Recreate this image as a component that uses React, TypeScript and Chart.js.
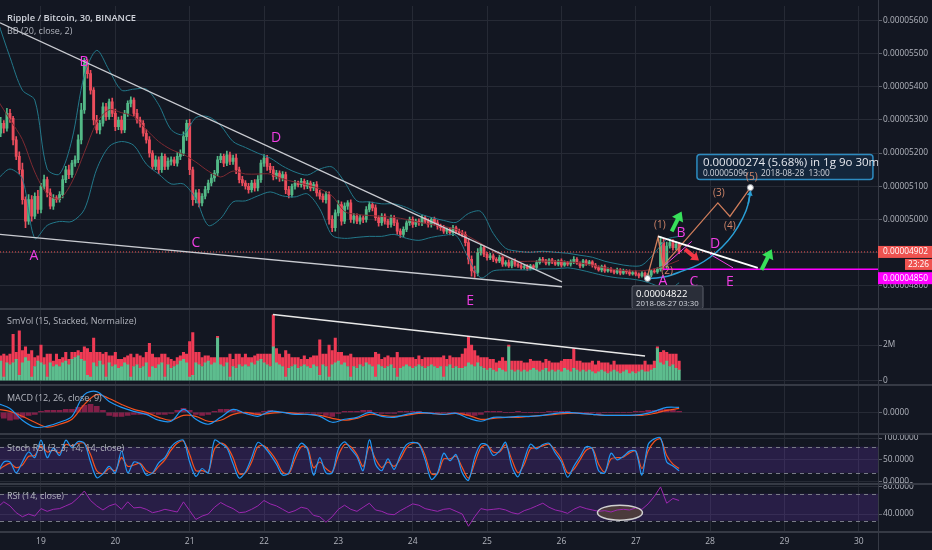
import React, { useEffect, useRef } from 'react';
import { Chart, registerables } from 'chart.js';

Chart.register(...registerables);

// ---------------- data (hourly candles, index 0 = 2018-08-18 10:00) ----------------
const firstOpen = 5250;
const closes = [
  5260, 5290, 5275, 5320, 5305, 5240, 5190, 5150, 5060, 4995,
  5060, 5010, 5070, 5030, 5100, 5120, 5080, 5040, 5065, 5060,
  5075, 5120, 5150, 5135, 5170, 5180, 5240, 5330, 5470, 5440,
  5390, 5300, 5270, 5290, 5340, 5310, 5355, 5320, 5280, 5300,
  5270, 5320, 5350, 5360, 5320, 5300, 5290, 5260, 5240, 5200,
  5160, 5180, 5150, 5190, 5160, 5175, 5180, 5170, 5190, 5200,
  5250, 5290, 5150, 5060, 5080, 5050, 5070, 5090, 5110, 5125,
  5140, 5180, 5190, 5170, 5195, 5175, 5185, 5150, 5120, 5110,
  5100, 5090, 5110, 5095, 5120, 5170, 5185, 5160, 5150, 5130,
  5140, 5125, 5135, 5090, 5075, 5100, 5110, 5105, 5115, 5100,
  5110, 5095, 5105, 5080, 5070, 5060, 5075, 5000, 4975, 5020,
  5045, 4995, 5040, 5050, 5000, 5010, 4995, 5005, 5000, 5030,
  5045, 5035, 5005, 4990, 5010, 4995, 4985, 5005, 4990, 4965,
  4955, 4970, 4990, 5000, 4985, 4995, 4990, 5005, 4995, 4985,
  5000, 4990, 4980, 4975, 4965, 4970, 4960, 4975, 4965, 4960,
  4955, 4930, 4880, 4845, 4840, 4900, 4915, 4895, 4885, 4890,
  4880, 4875, 4885, 4865, 4870, 4860, 4875, 4865, 4860, 4855,
  4858, 4852, 4860, 4855, 4870, 4880, 4875, 4868, 4878, 4872,
  4865, 4875, 4862, 4870, 4865, 4872, 4880, 4868, 4860, 4875,
  4866, 4872, 4862, 4855, 4848, 4858, 4845, 4850, 4845, 4840,
  4848, 4838, 4845, 4842, 4836, 4840, 4835, 4830, 4838, 4828,
  4832, 4845, 4842, 4850, 4930, 4860, 4920, 4930, 4915, 4925, 4902,
];
const wickUp = [
  10, 18, 8, 15, 12, 6, 10, 14, 20, 8,
  15, 12, 10, 18, 9, 14, 8, 12, 10, 7,
  9, 12, 10, 14, 8, 12, 15, 20, 16, 12,
  10, 8, 14, 9, 12, 10, 8, 11, 13, 9,
  12, 9, 8, 10, 7, 12, 9, 8, 11, 10,
  8, 12, 9, 10, 7, 11, 9, 8, 12, 10,
  14, 10, 12, 8, 9, 11, 8, 10, 9, 12,
  8, 10, 9, 7, 11, 8, 9, 12, 8, 10,
  7, 9, 8, 10, 12, 9, 11, 8, 9, 10,
  8, 7, 9, 8, 10, 7, 8, 6, 9, 7,
  8, 6, 7, 9, 8, 7, 10, 8, 12, 9,
  12, 8, 10, 7, 9, 8, 7, 8, 6, 9,
  8, 7, 9, 6, 8, 7, 6, 8, 7, 9,
  7, 8, 6, 7, 8, 6, 7, 8, 6, 7,
  6, 7, 8, 6, 7, 5, 6, 7, 5, 6,
  7, 8, 12, 10, 14, 12, 9, 7, 6, 8,
  6, 5, 7, 5, 6, 8, 5, 6, 5, 6,
  5, 6, 5, 4, 6, 5, 6, 5, 4, 5,
  5, 4, 6, 5, 4, 6, 8, 5, 4, 5,
  4, 5, 4, 6, 5, 4, 5, 4, 5, 4,
  5, 4, 5, 4, 6, 4, 5, 4, 5, 4,
  5, 4, 6, 5, 18, 10, 12, 10, 9, 8, 6,
];
const wickDn = [
  8, 10, 14, 9, 12, 15, 10, 12, 14, 20,
  10, 15, 8, 12, 10, 9, 12, 8, 10, 9,
  8, 10, 9, 12, 8, 10, 9, 12, 10, 14,
  12, 15, 10, 12, 9, 11, 8, 10, 12, 9,
  10, 8, 9, 11, 8, 10, 12, 9, 10, 12,
  9, 10, 12, 8, 10, 9, 11, 8, 9, 10,
  8, 12, 15, 18, 10, 12, 9, 8, 10, 9,
  10, 8, 9, 11, 8, 10, 9, 12, 10, 8,
  9, 11, 8, 10, 9, 8, 10, 12, 9, 11,
  8, 10, 9, 12, 10, 8, 9, 7, 8, 9,
  7, 9, 8, 10, 9, 8, 11, 14, 12, 10,
  9, 12, 8, 10, 9, 11, 8, 9, 10, 8,
  7, 9, 8, 10, 8, 9, 10, 8, 9, 10,
  9, 8, 7, 8, 9, 7, 8, 9, 7, 8,
  8, 7, 9, 8, 7, 8, 7, 9, 8, 7,
  8, 10, 14, 16, 15, 10, 8, 7, 8, 6,
  7, 6, 5, 7, 6, 5, 6, 7, 5, 6,
  5, 6, 4, 5, 6, 5, 4, 5, 6, 5,
  4, 5, 6, 4, 5, 6, 5, 4, 6, 5,
  5, 4, 6, 5, 4, 6, 5, 4, 5, 4,
  4, 5, 4, 6, 5, 4, 5, 6, 4, 6,
  4, 5, 4, 5, 6, 12, 8, 7, 8, 6, 5,
];
// volume in millions: up (green, bottom) and down (red, top) parts
const volUp = [
  0.9, 1.1, 0.2, 1.0, 0.9, 1.0, 1.2, 0.3, 1.0, 1.3,
  1.1, 0.2, 0.8, 1.1, 1.0, 0.9, 0.2, 1.0, 0.8, 0.9,
  0.8, 1.0, 1.1, 0.9, 1.2, 1.3, 1.4, 1.2, 1.1, 0.3,
  0.2, 1.0, 0.8, 1.1, 0.9, 0.2, 1.0, 0.8, 0.9, 0.7,
  0.8, 1.0, 0.9, 0.2, 0.8, 0.9, 0.7, 0.8, 1.0, 0.2,
  0.8, 0.7, 0.9, 1.0, 0.2, 0.9, 0.7, 0.8, 0.9, 1.1,
  1.2, 1.0, 0.2, 0.3, 1.0, 0.9, 0.8, 1.0, 1.1, 0.9,
  1.0, 2.4, 0.9, 0.8, 1.0, 0.2, 0.8, 0.7, 0.9, 0.8,
  0.9, 0.8, 1.0, 0.9, 1.1, 1.2, 1.0, 0.9, 0.8, 1.9,
  1.0, 0.9, 0.8, 0.2, 0.7, 0.8, 0.9, 0.7, 0.8, 0.9,
  0.8, 0.7, 0.9, 0.8, 0.3, 0.9, 0.8, 0.2, 0.9, 1.0,
  1.1, 0.9, 1.0, 0.8, 0.2, 0.8, 0.7, 0.9, 0.8, 1.0,
  0.9, 0.8, 0.2, 0.9, 0.8, 0.7, 0.8, 0.9, 0.7, 0.2,
  0.7, 0.8, 0.9, 0.8, 0.7, 0.8, 0.9, 0.8, 0.7, 0.8,
  0.9, 0.8, 0.7, 0.8, 0.2, 0.8, 0.9, 0.7, 0.8, 0.7,
  0.7, 0.8, 1.0, 0.9, 0.8, 1.0, 0.8, 0.7, 0.6, 0.7,
  0.6, 0.5, 0.7, 0.6, 0.5, 1.9, 0.6, 0.5, 0.6, 0.5,
  0.6, 0.5, 0.6, 0.7, 0.6, 0.5, 0.6, 0.7, 0.5, 0.6,
  0.5, 0.6, 0.5, 0.7, 0.6, 0.5, 0.7, 0.6, 0.5, 0.6,
  0.5, 0.6, 0.5, 0.4, 0.5, 0.6, 0.5, 0.4, 0.5, 0.6,
  0.5, 0.4, 0.5, 0.6, 0.4, 0.5, 0.4, 0.5, 0.6, 0.5,
  0.5, 0.6, 0.7, 1.8, 1.0, 0.9, 1.1, 0.8, 0.9, 0.7, 0.6,
];
const volDn = [
  0.5, 0.3, 1.3, 0.4, 0.6, 1.6, 0.4, 2.5, 0.7, 0.6,
  0.4, 1.5, 0.5, 0.3, 1.0, 0.4, 1.3, 0.5, 0.3, 0.6,
  0.4, 0.3, 0.5, 0.3, 0.4, 0.3, 0.3, 0.4, 0.8, 1.5,
  1.4, 1.4, 0.8, 0.5, 0.6, 1.4, 0.4, 0.6, 0.7, 0.5,
  0.4, 0.3, 0.5, 1.3, 0.5, 0.6, 0.7, 0.5, 0.6, 1.9,
  0.7, 0.6, 0.4, 0.5, 1.3, 0.4, 0.5, 0.3, 0.4, 0.3,
  0.4, 0.5, 2.0, 2.4, 0.6, 0.7, 0.5, 0.4, 0.3, 0.4,
  0.3, 0.1, 0.4, 0.5, 0.3, 1.3, 0.4, 0.8, 0.6, 0.5,
  0.6, 0.5, 0.3, 0.5, 0.4, 0.3, 0.5, 0.6, 0.7, 1.8,
  0.8, 0.6, 0.5, 1.5, 0.8, 0.5, 0.4, 0.6, 0.4, 0.5,
  0.4, 0.6, 0.5, 0.6, 2.0, 0.6, 0.7, 1.8, 0.8, 1.4,
  0.5, 0.7, 0.4, 0.6, 1.3, 0.5, 0.6, 0.4, 0.5, 0.3,
  0.4, 0.5, 1.4, 0.6, 0.4, 0.6, 0.6, 0.4, 0.6, 1.4,
  0.6, 0.5, 0.4, 0.5, 0.6, 0.4, 0.5, 0.4, 0.6, 0.5,
  0.4, 0.5, 0.6, 0.5, 1.2, 0.4, 0.5, 0.6, 0.5, 0.6,
  0.8, 1.0, 1.5, 1.1, 0.9, 0.4, 0.5, 0.6, 0.7, 0.5,
  0.6, 0.5, 0.4, 0.7, 0.6, 0.1, 0.5, 0.6, 0.5, 0.6,
  0.4, 0.5, 0.6, 0.4, 0.5, 0.6, 0.4, 0.5, 0.6, 0.4,
  0.5, 0.4, 0.6, 0.5, 0.6, 0.7, 1.1, 0.5, 0.6, 0.4,
  0.5, 0.4, 0.6, 0.5, 0.6, 0.4, 0.5, 0.6, 0.4, 0.5,
  0.4, 0.5, 0.4, 0.3, 0.5, 0.4, 0.5, 0.4, 0.3, 0.6,
  0.4, 0.3, 0.4, 0.1, 0.6, 0.8, 0.5, 0.7, 0.6, 0.8, 0.5,
];
// Bollinger bands, every 4 hours
const BB_STEP = 4;
const bbUpper = [
  5599, 5489, 5390, 5360, 5152, 5137, 5241, 5435, 5510, 5450,
  5390, 5393, 5393, 5346, 5271, 5256, 5307, 5310, 5283, 5235,
  5217, 5200, 5185, 5161, 5143, 5134, 5152, 5158, 5113, 5056,
  5053, 5047, 5047, 5036, 5018, 5006, 4997, 4991, 5018, 5024,
  4958, 4913, 4904, 4901, 4904, 4901, 4898, 4892, 4886, 4874,
  4866, 4860, 4862, 4898, 4940, 4949,
];
const bbMid = [
  5360, 5301, 5241, 5143, 5077, 5062, 5113, 5202, 5292, 5331,
  5322, 5310, 5271, 5235, 5211, 5196, 5173, 5146, 5128, 5146,
  5137, 5137, 5137, 5122, 5113, 5104, 5092, 5071, 5024, 5015,
  5012, 5009, 5006, 5000, 4991, 4985, 4979, 4970, 4949, 4928,
  4904, 4886, 4874, 4874, 4874, 4874, 4872, 4869, 4862, 4854,
  4848, 4845, 4845, 4851, 4862, 4877,
];
const bbLower = [
  5122, 5152, 5122, 4943, 4982, 4994, 4994, 5030, 5152, 5220,
  5235, 5223, 5167, 5137, 5107, 5107, 5062, 4982, 5003, 5053,
  5056, 5071, 5083, 5071, 5068, 5077, 5032, 4952, 4943, 4946,
  4949, 4949, 4955, 4943, 4937, 4946, 4952, 4952, 4883, 4824,
  4845, 4848, 4848, 4848, 4851, 4851, 4854, 4848, 4839, 4830,
  4824, 4821, 4815, 4803, 4785, 4809,
];
// MACD lines (1e-8 units), every 4 hours
const MACD_STEP = 4;
const macdLine = [
  9, 4, -8, -15, -14, -10, -4, 18, 21, 11,
  5, 1, -2, -8, -9, 3, -7, -12, -5, 3,
  -1, -4, 1, 0, -2, -2, -4, -10, -7, -5,
  0, -4, -5, -2, 0, -1, -2, -1, -6, -9,
  -5, -5, -4, -4, -3, -1, 0, -1, -2, -3,
  -3, -3, -2, 1, 5, 5,
];
const macdSignal = [
  3, 1, -4, -10, -15, -12, -7, 8, 18, 14,
  8, 3, 0, -5, -8, -3, -4, -9, -8, -2,
  0, -2, -1, 0, -1, -2, -3, -6, -8, -6,
  -2, -3, -4, -3, -1, -1, -2, -1, -3, -7,
  -6, -5, -5, -4, -3, -2, -1, -1, -2, -3,
  -3, -3, -3, -1, 2, 4,
];
// oscillators, every 2 hours
const OSC_STEP = 2;
const macdHist = [
  -4, -6, -8, -7, -5, -3, -2, 1, 2, 2,
  2, 3, 3, 5, 7, 8, 6, 2, -3, -4,
  -4, -3, -2, -2, -2, -1, -2, -2, -1, 2,
  4, 2, -2, -3, -2, 1, 3, 3, 3, 1,
  -1, -2, -2, 1, 2, 1, 0, -1, -1, 0,
  0, -1, -1, -3, -4, -1, 1, 1, 1, 2,
  2, 0, -1, -1, -1, 1, 1, 1, 1, 0,
  0, 0, 0, 0, 0, -2, -3, -3, -2, 1,
  1, 1, 0, 0, 1, 0, 0, 0, 0, 1,
  1, 1, 1, 0, 0, 0, 0, -1, 0, 0,
  0, 0, 0, 1, 1, 2, 2, 3, 3, 2,
  1,
];
const stochK = [
  20, 45, 45, 20, 45, 68, 55, 95, 55, 77,
  60, 95, 78, 92, 88, 45, 9, 18, 35, 20,
  70, 20, 45, 40, 15, 20, 43, 55, 80, 92,
  95, 45, 12, 30, 20, 95, 88, 77, 41, 8,
  22, 55, 90, 80, 62, 40, 15, 20, 64, 88,
  75, 15, 55, 20, 20, 75, 91, 75, 57, 25,
  96, 40, 25, 52, 28, 60, 85, 90, 86, 50,
  5, 20, 65, 48, 62, 20, 3, 55, 86, 84,
  60, 70, 90, 35, 11, 50, 86, 75, 85, 88,
  66, 45, 10, 35, 57, 80, 75, 25, 20, 65,
  50, 58, 70, 70, 15, 85, 98, 100, 45, 36,
  25,
];
const stochD = [
  25, 35, 42, 32, 38, 58, 60, 82, 68, 72,
  66, 85, 82, 88, 88, 62, 25, 18, 30, 25,
  55, 35, 38, 42, 25, 20, 35, 50, 72, 88,
  93, 62, 25, 25, 22, 75, 88, 80, 55, 18,
  20, 45, 80, 82, 68, 48, 22, 18, 52, 80,
  78, 32, 45, 30, 22, 60, 85, 80, 62, 35,
  80, 52, 32, 45, 35, 52, 78, 88, 87, 60,
  18, 18, 52, 52, 58, 32, 8, 42, 78, 84,
  68, 68, 84, 50, 20, 40, 75, 78, 82, 86,
  72, 52, 20, 28, 50, 72, 76, 40, 22, 52,
  55, 56, 66, 70, 30, 70, 92, 98, 60, 40,
  30,
];
const rsiValues = [
  50, 58, 52, 42, 36, 40, 37, 48, 44, 47,
  48, 52, 56, 64, 74, 60, 52, 46, 52, 55,
  47, 58, 49, 50, 47, 42, 44, 47, 45, 43,
  58, 45, 32, 37, 40, 50, 57, 52, 48, 42,
  43, 47, 52, 60, 55, 52, 47, 42, 45, 50,
  48, 38, 36, 28, 36, 47, 53, 47, 44, 50,
  56, 46, 44, 40, 39, 45, 50, 55, 53, 48,
  46, 44, 47, 48, 44, 40, 22, 36, 48, 46,
  47, 48, 46, 42, 40, 45, 48, 52, 56, 50,
  46, 44, 41, 47, 51, 48, 46, 44, 45, 43,
  46, 47, 46, 49, 47, 55, 66, 80, 56, 63,
  60,
];
// axes
const dayTicks = [14, 38, 62, 86, 110, 134, 158, 182, 206, 230, 254, 278];
const dayLabels = ['19', '20', '21', '22', '23', '24', '25', '26', '27', '28', '29', '30'];
const priceTicks = [4800, 4900, 5000, 5100, 5200, 5300, 5400, 5500, 5600];
const volTicks = [0, 2];
const macdTicks = [0];
const stochTicks = [0, 50, 100];
const rsiTicks = [40, 80];
// drawings (x = hour index, y = price / indicator value)
const wedgeUpper = [[0.77, 5593], [182.2, 4812]];
const wedgeLower = [[0.77, 4955], [182.2, 4797]];
const waveLine = [[209.6, 4822], [213.2, 4946], [214.8, 4860], [232.5, 5050], [236.4, 5009], [243, 5096]];
const arcLine = [[209.6, 4821], [215.4, 4827], [221.2, 4845], [226.1, 4863], [230, 4886], [233.8, 4916], [237.4, 4955], [240.3, 5000], [242.3, 5047], [243.1, 5088]];
const wedge2 = [[213.2, 4949], [245.4, 4854]];
const magentaSegA = [[214.8, 4857], [224.1, 4934]];
const magentaSegB = [[230, 4895], [237.4, 4854]];
const volTrend = [[88.9, 3.72], [209, 1.39]];
const lastPrice = 4902;
const levelPrice = 4850;
const levelStart = 214.8;
const letterLabels = [
  { t: 'A', x: 11.7, y: 4889 }, { t: 'B', x: 27.9, y: 5474 }, { t: 'C', x: 64, y: 4928 },
  { t: 'D', x: 89.9, y: 5247 }, { t: 'E', x: 152.5, y: 4755 },
  { t: 'A', x: 214.8, y: 4815 }, { t: 'B', x: 220.6, y: 4958 }, { t: 'C', x: 224.8, y: 4812 },
  { t: 'D', x: 231.6, y: 4925 }, { t: 'E', x: 236.4, y: 4812 },
];
const waveLabels = [
  { t: '(1)', x: 213.8, y: 4982 }, { t: '(2)', x: 216.1, y: 4845 }, { t: '(3)', x: 232.8, y: 5080 },
  { t: '(4)', x: 236.4, y: 4979 }, { t: '(5)', x: 243.5, y: 5128 },
];
const greenArrows = [[[217.6, 4964], [220.8, 5024]], [[246.6, 4848], [249.9, 4910]]];
const redArrow = [[221.9, 4910], [226.4, 4876]];
const lowPoint = { x: 209.8, y: 4822 };
const highPoint = { x: 243, y: 5096 };
const measureBox = { x: 225.75, y: 5196, line1: '0.00000274 (5.68%) in 1g 9o 30m', price: '0.00005096', date: '2018-08-28  13:00' };
const lowBox = { x: 204.8, y: 4800, price: '0.00004822', date: '2018-08-27 03:30' };
const rsiEllipse = { x: 200.9, y: 42 };
const countdown = '23:26';

const X_MIN = 0.77;
const X_MAX = 284.2;

const BG = '#131722';
const GRID = '#262a35';
const SEP = '#363a45';
const TXT = '#b2b5be';
const FONT = '"Open Sans", "Noto Sans", "DejaVu Sans", sans-serif';
const UP = '#53b987';
const DOWN = '#eb4d5c';
const MAGENTA = '#f03ee3';

function drawArrow(ctx: CanvasRenderingContext2D, x1: number, y1: number, x2: number, y2: number, color: string, width: number, head: number, spread: number) {
  const ang = Math.atan2(y2 - y1, x2 - x1);
  const bx = x2 - Math.cos(ang) * head * 0.7;
  const by = y2 - Math.sin(ang) * head * 0.7;
  ctx.strokeStyle = color;
  ctx.fillStyle = color;
  ctx.lineWidth = width;
  ctx.lineCap = 'butt';
  ctx.beginPath();
  ctx.moveTo(x1, y1);
  ctx.lineTo(bx, by);
  ctx.stroke();
  ctx.beginPath();
  ctx.moveTo(x2, y2);
  ctx.lineTo(x2 - Math.cos(ang - spread) * head, y2 - Math.sin(ang - spread) * head);
  ctx.lineTo(x2 - Math.cos(ang + spread) * head, y2 - Math.sin(ang + spread) * head);
  ctx.closePath();
  ctx.fill();
}

function roundRect(ctx: CanvasRenderingContext2D, x: number, y: number, w: number, h: number, r: number) {
  ctx.beginPath();
  ctx.moveTo(x + r, y);
  ctx.lineTo(x + w - r, y);
  ctx.quadraticCurveTo(x + w, y, x + w, y + r);
  ctx.lineTo(x + w, y + h - r);
  ctx.quadraticCurveTo(x + w, y + h, x + w - r, y + h);
  ctx.lineTo(x + r, y + h);
  ctx.quadraticCurveTo(x, y + h, x, y + h - r);
  ctx.lineTo(x, y + r);
  ctx.quadraticCurveTo(x, y, x + r, y);
  ctx.closePath();
}

const tvPlugin = {
  id: 'tvDecor',
  beforeDraw(chart: any) {
    const { ctx, width, height } = chart;
    ctx.save();
    ctx.fillStyle = BG;
    ctx.fillRect(0, 0, width, height);
    ctx.restore();
  },
  beforeDatasetsDraw(chart: any) {
    const { ctx, chartArea, scales } = chart;
    ctx.save();
    const band = (s: any, hi: number, lo: number) => {
      const y1 = s.getPixelForValue(hi);
      const y2 = s.getPixelForValue(lo);
      ctx.fillStyle = 'rgba(120, 60, 200, 0.22)';
      ctx.fillRect(chartArea.left, y1, chartArea.right - chartArea.left, y2 - y1);
      ctx.strokeStyle = '#787b86';
      ctx.lineWidth = 1;
      ctx.setLineDash([4, 4]);
      [y1, y2].forEach((y) => {
        ctx.beginPath();
        ctx.moveTo(chartArea.left, Math.round(y) + 0.5);
        ctx.lineTo(chartArea.right, Math.round(y) + 0.5);
        ctx.stroke();
      });
      ctx.setLineDash([]);
    };
    band(scales.yStoch, 80, 20);
    band(scales.yRsi, 70, 30);
    // RSI ellipse fill
    const ex = scales.x.getPixelForValue(rsiEllipse.x);
    const ey = scales.yRsi.getPixelForValue(rsiEllipse.y);
    ctx.beginPath();
    ctx.ellipse(ex, ey, 22.5, 7.5, 0, 0, Math.PI * 2);
    ctx.fillStyle = 'rgba(78, 62, 60, 0.92)';
    ctx.fill();
    ctx.restore();
  },
  afterDatasetsDraw(chart: any) {
    const { ctx, scales } = chart;
    const xs = scales.x;
    const yp = scales.yPrice;
    const px = (v: number) => xs.getPixelForValue(v);
    const py = (v: number) => yp.getPixelForValue(v);
    ctx.save();
    // RSI ellipse outline
    ctx.beginPath();
    ctx.ellipse(px(rsiEllipse.x), scales.yRsi.getPixelForValue(rsiEllipse.y), 22.5, 7.5, 0, 0, Math.PI * 2);
    ctx.strokeStyle = '#d0d0d0';
    ctx.lineWidth = 1.5;
    ctx.stroke();

    // arrows
    greenArrows.forEach(([a, b]) => drawArrow(ctx, px(a[0]), py(a[1]), px(b[0]), py(b[1]), '#37e05a', 4, 11, 0.6));
    drawArrow(ctx, px(redArrow[0][0]), py(redArrow[0][1]), px(redArrow[1][0]), py(redArrow[1][1]), '#f23645', 4, 9, 0.6);
    // arc arrowhead
    const n = arcLine.length;
    drawArrow(ctx, px(arcLine[n - 2][0]), py(arcLine[n - 2][1]), px(arcLine[n - 1][0]), py(arcLine[n - 1][1]), '#2a9fd6', 1.5, 6, 0.5);

    // letter labels
    ctx.textAlign = 'center';
    ctx.textBaseline = 'middle';
    ctx.font = `400 14px ${FONT}`;
    ctx.fillStyle = MAGENTA;
    letterLabels.forEach((l) => ctx.fillText(l.t, px(l.x), py(l.y)));

    // measure box
    const bx = px(measureBox.x);
    const by = py(measureBox.y);
    roundRect(ctx, bx, by, 176, 25, 3);
    ctx.fillStyle = '#14263b';
    ctx.fill();
    ctx.strokeStyle = '#2d8bc0';
    ctx.lineWidth = 1.5;
    ctx.stroke();
    ctx.textAlign = 'left';
    ctx.fillStyle = '#e6e8ee';
    ctx.font = `400 11.5px ${FONT}`;
    ctx.fillText(measureBox.line1, bx + 6, by + 8);
    ctx.font = `400 8.3px ${FONT}`;
    ctx.fillStyle = '#d1d4dc';
    ctx.fillText(measureBox.price, bx + 6, by + 19);
    ctx.fillText(measureBox.date, bx + 64, by + 19);

    // wave labels
    ctx.textAlign = 'center';
    ctx.font = `400 10px ${FONT}`;
    ctx.fillStyle = '#d2876a';
    waveLabels.forEach((l) => ctx.fillText(l.t, px(l.x), py(l.y)));

    // points
    [lowPoint, highPoint].forEach((p) => {
      ctx.beginPath();
      ctx.arc(px(p.x), py(p.y), 3, 0, Math.PI * 2);
      ctx.fillStyle = '#ffffff';
      ctx.fill();
      ctx.strokeStyle = '#9598a1';
      ctx.lineWidth = 1;
      ctx.stroke();
    });

    // low box
    const lx = px(lowBox.x);
    const ly = py(lowBox.y);
    roundRect(ctx, lx, ly, 71, 23, 2);
    ctx.fillStyle = '#2a2e39';
    ctx.fill();
    ctx.strokeStyle = '#5d606b';
    ctx.lineWidth = 1;
    ctx.stroke();
    ctx.textAlign = 'left';
    ctx.fillStyle = '#ffffff';
    ctx.font = `400 9.5px ${FONT}`;
    ctx.fillText(lowBox.price, lx + 4, ly + 8.5);
    ctx.fillStyle = '#d1d4dc';
    ctx.font = `400 7.8px ${FONT}`;
    ctx.fillText(lowBox.date, lx + 4, ly + 18);
    ctx.restore();
  },
  afterDraw(chart: any) {
    const { ctx, scales, chartArea, width } = chart;
    ctx.save();
    // pane separators
    ctx.strokeStyle = SEP;
    ctx.lineWidth = 2;
    [scales.yVol.top, scales.yMacd.top, scales.yStoch.top, scales.yRsi.top, chartArea.bottom].forEach((y: number) => {
      ctx.beginPath();
      ctx.moveTo(0, Math.round(y));
      ctx.lineTo(width, Math.round(y));
      ctx.stroke();
    });
    ctx.lineWidth = 1;
    ctx.beginPath();
    ctx.moveTo(chartArea.right + 0.5, 0);
    ctx.lineTo(chartArea.right + 0.5, chart.height);
    ctx.stroke();

    // pane titles
    ctx.textAlign = 'left';
    ctx.textBaseline = 'middle';
    ctx.fillStyle = '#d1d4dc';
    ctx.font = `600 9.3px ${FONT}`;
    ctx.fillText('Ripple / Bitcoin, 30, BINANCE', 7, scales.yPrice.top + 12);
    ctx.fillStyle = TXT;
    ctx.font = `400 9px ${FONT}`;
    ctx.fillText('BB (20, close, 2)', 7, scales.yPrice.top + 25);
    ctx.fillText('SmVol (15, Stacked, Normalize)', 7, scales.yVol.top + 13);
    ctx.fillText('MACD (12, 26, close, 9)', 7, scales.yMacd.top + 14);
    ctx.fillText('Stoch RSI (3, 3, 14, 14, close)', 7, scales.yStoch.top + 14);
    ctx.fillText('RSI (14, close)', 7, scales.yRsi.top + 13);

    // price-axis tags
    const ax = chartArea.right;
    const yl = scales.yPrice.getPixelForValue(lastPrice);
    ctx.fillStyle = '#ef5350';
    ctx.fillRect(ax, yl - 6, 54, 12);
    ctx.fillRect(ax + 27, yl + 7, 27, 11);
    const ym = scales.yPrice.getPixelForValue(levelPrice) + 9;
    ctx.fillStyle = '#ff00ff';
    ctx.fillRect(ax, ym - 6, 54, 12);
    ctx.fillStyle = '#ffffff';
    ctx.font = `400 8.3px ${FONT}`;
    ctx.fillText((lastPrice / 1e8).toFixed(8), ax + 5, yl);
    ctx.fillText((levelPrice / 1e8).toFixed(8), ax + 5, ym);
    ctx.textAlign = 'center';
    ctx.fillText(countdown, ax + 40.5, yl + 12.5);
    ctx.restore();
  },
};

export default function App() {
  const canvasRef = useRef<HTMLCanvasElement | null>(null);

  useEffect(() => {
    document.body.style.margin = '0';
    document.body.style.background = BG;
    const canvas = canvasRef.current;
    if (!canvas) return;

    const opens = closes.map((c, i) => (i === 0 ? firstOpen : closes[i - 1]));
    const highs = closes.map((c, i) => Math.max(c, opens[i]) + wickUp[i]);
    const lows = closes.map((c, i) => Math.min(c, opens[i]) - wickDn[i]);
    const candleColors = closes.map((c, i) => (c >= opens[i] ? UP : DOWN));

    const series = (arr: number[], step: number) => arr.map((v, k) => ({ x: k * step, y: v }));
    const pts = (arr: number[][]) => arr.map(([x, y]) => ({ x, y }));
    const line = (data: any[], yAxisID: string, color: string, width: number, extra: any = {}) => ({
      type: 'line',
      data,
      xAxisID: 'x',
      yAxisID,
      borderColor: color,
      backgroundColor: color,
      borderWidth: width,
      pointRadius: 0,
      pointHoverRadius: 0,
      tension: 0,
      fill: false,
      order: 3,
      ...extra,
    });
    const bars = (data: any[], yAxisID: string, color: any, thickness: number, extra: any = {}) => ({
      type: 'bar',
      data,
      xAxisID: 'x',
      yAxisID,
      backgroundColor: color,
      borderWidth: 0,
      barThickness: thickness,
      grouped: false,
      order: 6,
      ...extra,
    });

    const datasets: any[] = [
      // drawings
      line(pts(wedgeUpper), 'yPrice', '#c9cbd1', 1.4, { order: 1 }),
      line(pts(wedgeLower), 'yPrice', '#c9cbd1', 1.4, { order: 1 }),
      line(pts(wedge2), 'yPrice', '#ffffff', 2, { order: 1 }),
      line(pts(waveLine), 'yPrice', '#cf7d5b', 1.3, { order: 1 }),
      line(pts(arcLine), 'yPrice', '#2a9fd6', 1.5, { order: 1, tension: 0.4, cubicInterpolationMode: 'monotone' }),
      line(pts(magentaSegA), 'yPrice', MAGENTA, 1, { order: 1 }),
      line(pts(magentaSegB), 'yPrice', MAGENTA, 1, { order: 1 }),
      line([{ x: levelStart, y: levelPrice }, { x: X_MAX, y: levelPrice }], 'yPrice', '#ff00ff', 1.6, { order: 1 }),
      line([{ x: X_MIN, y: lastPrice }, { x: X_MAX, y: lastPrice }], 'yPrice', '#ef5350', 1, { order: 2, borderDash: [1, 2] }),
      line(pts(volTrend), 'yVol', '#e8e8e8', 1.5, { order: 1 }),
      // Bollinger
      line(series(bbUpper, BB_STEP), 'yPrice', '#23788a', 1, { order: 4, tension: 0.3 }),
      line(series(bbLower, BB_STEP), 'yPrice', '#23788a', 1, { order: 4, tension: 0.3 }),
      line(series(bbMid, BB_STEP), 'yPrice', '#7e2a32', 1, { order: 4, tension: 0.3 }),
      // candles
      bars(closes.map((c, i) => ({ x: i, y: [opens[i], c] })), 'yPrice', candleColors, 2.2, { order: 6, minBarLength: 1 }),
      bars(closes.map((c, i) => ({ x: i, y: [lows[i], highs[i]] })), 'yPrice', candleColors, 1, { order: 7 }),
      // volume
      bars(volUp.map((v, i) => ({ x: i, y: v })), 'yVol', '#5dbd8e', 2.4, { order: 8, stack: 'vol' }),
      bars(volDn.map((v, i) => ({ x: i, y: v })), 'yVol', '#ef3b55', 2.4, { order: 9, stack: 'vol' }),
      // MACD
      bars(series(macdHist, OSC_STEP), 'yMacd', 'rgba(170, 35, 85, 0.75)', 5, { order: 10 }),
      line(series(macdLine, MACD_STEP), 'yMacd', '#2196f3', 1.2, { tension: 0.35 }),
      line(series(macdSignal, MACD_STEP), 'yMacd', '#f4511e', 1.2, { tension: 0.35 }),
      // Stoch RSI
      line(series(stochK, OSC_STEP), 'yStoch', '#2196f3', 1.2, { tension: 0.3 }),
      line(series(stochD, OSC_STEP), 'yStoch', '#f4511e', 1.2, { tension: 0.3 }),
      // RSI
      line(series(rsiValues, OSC_STEP), 'yRsi', '#9c27b0', 1, {}),
    ];

    const tickFont = { family: FONT, size: 8.3 };
    const yAxis = (weight: number, min: number, max: number, ticks: number[], fmt: (v: number) => string, extra: any = {}) => ({
      type: 'linear',
      position: 'right',
      stack: 'panes',
      stackWeight: weight,
      min,
      max,
      offset: false,
      beginAtZero: false,
      stacked: false,
      grid: { color: GRID, drawTicks: true, tickLength: 4, tickColor: '#5d606b', lineWidth: 1 },
      border: { display: false },
      ticks: { color: TXT, font: tickFont, padding: 1, autoSkip: false, callback: (v: number) => fmt(v) },
      afterBuildTicks: (s: any) => {
        s.ticks = ticks.map((v) => ({ value: v }));
      },
      afterFit: (s: any) => {
        s.width = 54;
      },
      ...extra,
    });

    const chart = new Chart(canvas, {
      type: 'bar',
      data: { datasets },
      options: {
        animation: false,
        responsive: false,
        maintainAspectRatio: false,
        layout: { padding: 0 },
        events: [],
        plugins: { legend: { display: false }, tooltip: { enabled: false }, title: { display: false } },
        scales: {
          x: {
            type: 'linear',
            position: 'bottom',
            min: X_MIN,
            max: X_MAX,
            offset: false,
            grid: { color: GRID, drawTicks: false, offset: false },
            border: { display: false },
            ticks: {
              color: TXT,
              font: { family: FONT, size: 8.5 },
              padding: 4,
              maxRotation: 0,
              autoSkip: false,
              callback: (v: number) => {
                const k = dayTicks.indexOf(v);
                return k >= 0 ? dayLabels[k] : '';
              },
            },
            afterBuildTicks: (s: any) => {
              s.ticks = dayTicks.map((v) => ({ value: v }));
            },
            afterFit: (s: any) => {
              s.height = 18;
            },
          },
          yPrice: yAxis(306, 4731.3, 5643.8, priceTicks, (v) => (v / 1e8).toFixed(8)),
          yVol: yAxis(77, -0.222, 4.056, volTicks, (v) => (v === 0 ? '0' : v + 'M'), { stacked: true }),
          yMacd: yAxis(50, -22, 28, macdTicks, () => '0.0000'),
          yStoch: yAxis(50, -4.5, 109, stochTicks, (v) => v.toFixed(4)),
          yRsi: yAxis(49, 13.5, 85, rsiTicks, (v) => v.toFixed(4)),
        },
      } as any,
      plugins: [tvPlugin as any],
    } as any);

    return () => chart.destroy();
  }, []);

  return (
    <div style={{ width: 932, height: 550, background: BG, overflow: 'hidden' }}>
      <canvas ref={canvasRef} width={932} height={550} style={{ display: 'block', width: 932, height: 550 }} />
    </div>
  );
}
